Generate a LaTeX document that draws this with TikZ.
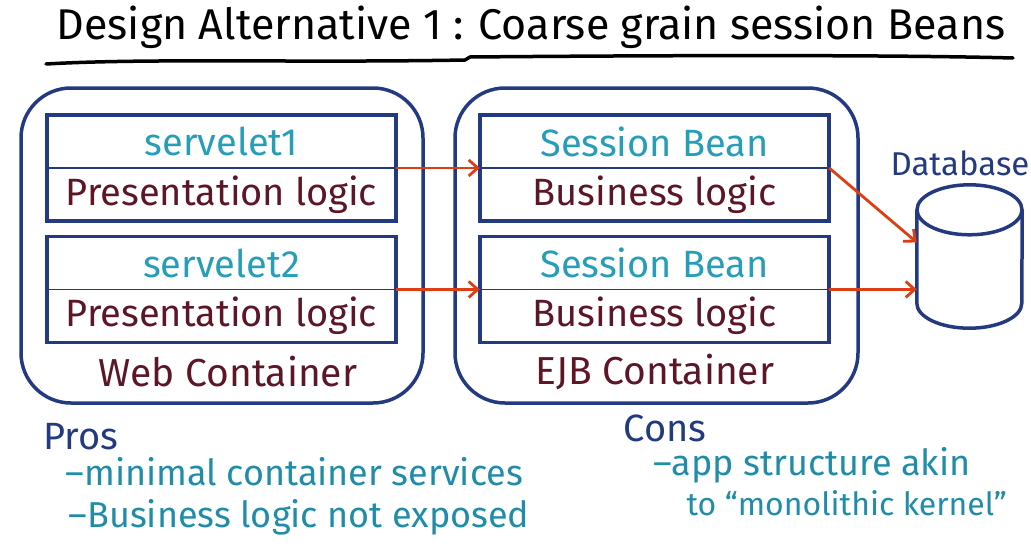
\documentclass[tikz,border=0pt]{standalone}
\usepackage{fontspec}
\setmainfont{Fira Sans}
\usetikzlibrary{arrows.meta,positioning}
\definecolor{boxblue}{RGB}{35,58,128}
\definecolor{beancyan}{RGB}{38,158,185}
\definecolor{logicred}{RGB}{92,22,38}
\definecolor{arrowred}{RGB}{222,62,20}
\definecolor{noteteal}{RGB}{32,140,168}
\newcommand{\txtsize}[1]{\fontsize{#1}{#1}\selectfont}
\begin{document}
\begin{tikzpicture}[x=1pt,y=-1pt,
  container/.style={draw=boxblue, line width=3.5pt, rounded corners=50pt, minimum width=402pt, minimum height=315pt},
  half/.style={minimum width=349pt, minimum height=52.5pt, inner sep=0pt},
  beanname/.style={half, text=beancyan, font=\txtsize{38}},
  logic/.style={half, text=logicred, font=\txtsize{38}},
  boxline/.style={draw=boxblue, line width=3.5pt},
  divider/.style={draw=boxblue, line width=1.8pt},
  contlabel/.style={text=logicred, font=\txtsize{39}},
  notehead/.style={text=boxblue, font=\txtsize{38}, anchor=west},
  note/.style={text=noteteal, font=\txtsize{36}, anchor=west},
  connector/.style={draw=arrowred, line width=2.8pt, -{Straight Barb[length=9pt,width=16pt]}}]
  \useasboundingbox (0,0) rectangle (1031,549);
  % title
  \node[font=\txtsize{43}] (title) at (531,27) {Design Alternative 1 : Coarse grain session Beans};
  \draw[line width=3.5pt, line cap=round] (46,64) .. controls (150,58) and (300,63) .. (465,60)
    -- (470,57) .. controls (700,55) and (900,55) .. (1013,58);
  % containers
  \node[container] (web) at (222,245.5) {};
  \node[container, minimum width=403pt] (ejb) at (656.5,245.5) {};
  \node[contlabel] (weblbl) at (228,372) {Web Container};
  \node[contlabel] (ejblbl) at (655,372) {EJB Container};
  % servlets and session beans
  \foreach \i/\y in {1/141.5, 2/263}{
    \node[beanname] (srv\i) at (221.5,\y) {servelet\i};
    \node[logic, below=0pt of srv\i] (pres\i) {Presentation logic};
    \draw[boxline] (srv\i.north west) rectangle (pres\i.south east);
    \draw[divider] (srv\i.south west) -- (srv\i.south east);
    \node[beanname] (sb\i) at (654.5,\y) {Session Bean};
    \node[logic, below=0pt of sb\i] (biz\i) {Business logic};
    \draw[boxline] (sb\i.north west) rectangle (biz\i.south east);
    \draw[divider] (sb\i.south west) -- (sb\i.south east);
    \draw[connector] (srv\i.south east) -- (sb\i.south west);
  }
  % database: body node, ends drawn round it
  \node[minimum width=105pt, minimum height=93pt, inner sep=0pt] (db) at (969.5,256.5) {};
  \draw[boxline] (db.north west) -- (db.south west)
    arc[start angle=180, end angle=360, x radius=52.5pt, y radius=25pt] -- (db.north east);
  \draw[boxline] (db.north) ellipse [x radius=52.5pt, y radius=25pt];
  \node[text=boxblue, font=\txtsize{33}] (dblbl) at (960,163) {Database};
  \draw[connector] (sb1.south east) -- (db.165);
  \draw[connector] (sb2.south east) -- (db.212);
  % pros and cons
  \node[notehead] (pros) at (40,437) {Pros};
  \node[note] (pro1) at (62,472) {--minimal container services};
  \node[note] (pro2) at (65,517) {--Business logic not exposed};
  \node[notehead] (cons) at (620,428) {Cons};
  \node[note] (con1) at (650,465) {--app structure akin};
  \node[note, font=\txtsize{32}] (con2) at (683,503) {to “monolithic kernel”};
\end{tikzpicture}
\end{document}
